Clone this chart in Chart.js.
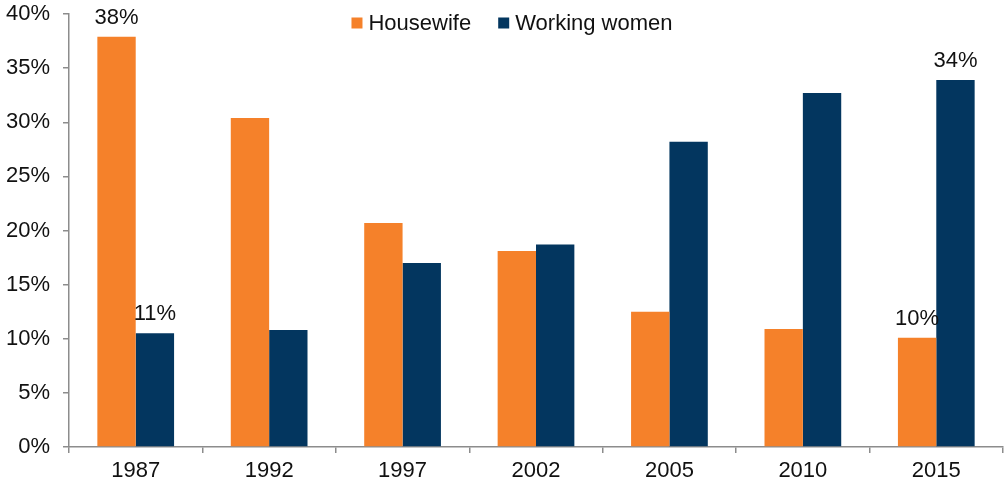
<!DOCTYPE html>
<html>
<head>
<meta charset="utf-8">
<script src="https://cdn.jsdelivr.net/npm/chart.js@4/dist/chart.umd.min.js"></script>
<style>
  html, body { margin: 0; padding: 0; background: #fff; }
  #wrap { width: 1004px; height: 487px; }
</style>
</head>
<body>
<div id="wrap"><canvas id="c" width="1004" height="487"></canvas></div>
<script>
const years = ['1987', '1992', '1997', '2002', '2005', '2010', '2015'];
const housewife = [37.9, 30.4, 20.7, 18.1, 12.5, 10.9, 10.1];
const workingWomen = [10.5, 10.8, 17.0, 18.7, 28.2, 32.7, 33.9];
const yTicks = [0, 5, 10, 15, 20, 25, 30, 35, 40];
// only the first and last year carry value labels
const labelledYears = ['1987', '2015'];

const FONT = 'Liberation Sans, Arial, sans-serif';
const FONT_SIZE = 22;
const ORANGE = '#F5812A';
const NAVY = '#03365F';
const AXIS = '#8C8C8C';

const valueLabels = {
  id: 'valueLabels',
  afterDatasetsDraw(chart) {
    const ctx = chart.ctx;
    ctx.save();
    ctx.font = FONT_SIZE + 'px ' + FONT;
    ctx.fillStyle = '#111';
    ctx.textAlign = 'center';
    ctx.textBaseline = 'alphabetic';
    chart.data.datasets.forEach((ds, di) => {
      const meta = chart.getDatasetMeta(di);
      meta.data.forEach((bar, i) => {
        if (!labelledYears.includes(chart.data.labels[i])) return;
        ctx.fillText(Math.round(ds.data[i]) + '%', bar.x, bar.y - 13);
      });
    });
    ctx.restore();
  }
};

const topLegend = {
  id: 'topLegend',
  afterDraw(chart) {
    const ctx = chart.ctx;
    ctx.save();
    ctx.font = FONT_SIZE + 'px ' + FONT;
    ctx.textBaseline = 'middle';
    ctx.textAlign = 'left';
    const y = 23;
    const box = 11, gapBox = 6, gapItem = 27;
    const items = chart.data.datasets.map(d => ({ text: d.label, color: d.backgroundColor }));
    let total = 0;
    items.forEach((it, k) => {
      it.w = box + gapBox + ctx.measureText(it.text).width;
      total += it.w + (k ? gapItem : 0);
    });
    let x = 512 - total / 2;
    items.forEach(it => {
      ctx.fillStyle = it.color;
      ctx.fillRect(x, y - box / 2, box, box);
      ctx.fillStyle = '#111';
      ctx.fillText(it.text, x + box + gapBox, y + 1);
      x += it.w + gapItem;
    });
    ctx.restore();
  }
};

new Chart(document.getElementById('c'), {
  type: 'bar',
  data: {
    labels: years,
    datasets: [
      { label: 'Housewife', data: housewife, backgroundColor: ORANGE, borderWidth: 0 },
      { label: 'Working women', data: workingWomen, backgroundColor: NAVY, borderWidth: 0 }
    ]
  },
  options: {
    responsive: false,
    animation: false,
    devicePixelRatio: 1,
    layout: { padding: { top: 14, right: 1, left: 0, bottom: 0 } },
    datasets: { bar: { categoryPercentage: 0.575, barPercentage: 1 } },
    plugins: {
      legend: { display: false },
      tooltip: { enabled: false }
    },
    scales: {
      x: {
        offset: true,
        grid: { offset: true, drawOnChartArea: false, drawTicks: true, tickLength: 6, color: AXIS, lineWidth: 1.5 },
        border: { color: AXIS, width: 1.5 },
        ticks: { font: { family: FONT, size: FONT_SIZE }, color: '#111', padding: 5, maxRotation: 0 },
        afterFit(s) { s.height = 40; s.paddingLeft = 0; s.paddingRight = 0; }
      },
      y: {
        min: 0,
        max: 40,
        afterBuildTicks(s) { s.ticks = yTicks.map(v => ({ value: v })); },
        grid: { drawOnChartArea: false, drawTicks: true, tickLength: 6, color: AXIS, lineWidth: 1.5 },
        border: { color: AXIS, width: 1.5 },
        ticks: { font: { family: FONT, size: FONT_SIZE }, color: '#111', padding: 13, callback: v => v + '%' },
        afterFit(s) { s.width = 69; s.paddingTop = 0; s.paddingBottom = 0; }
      }
    }
  },
  plugins: [valueLabels, topLegend]
});
</script>
</body>
</html>
